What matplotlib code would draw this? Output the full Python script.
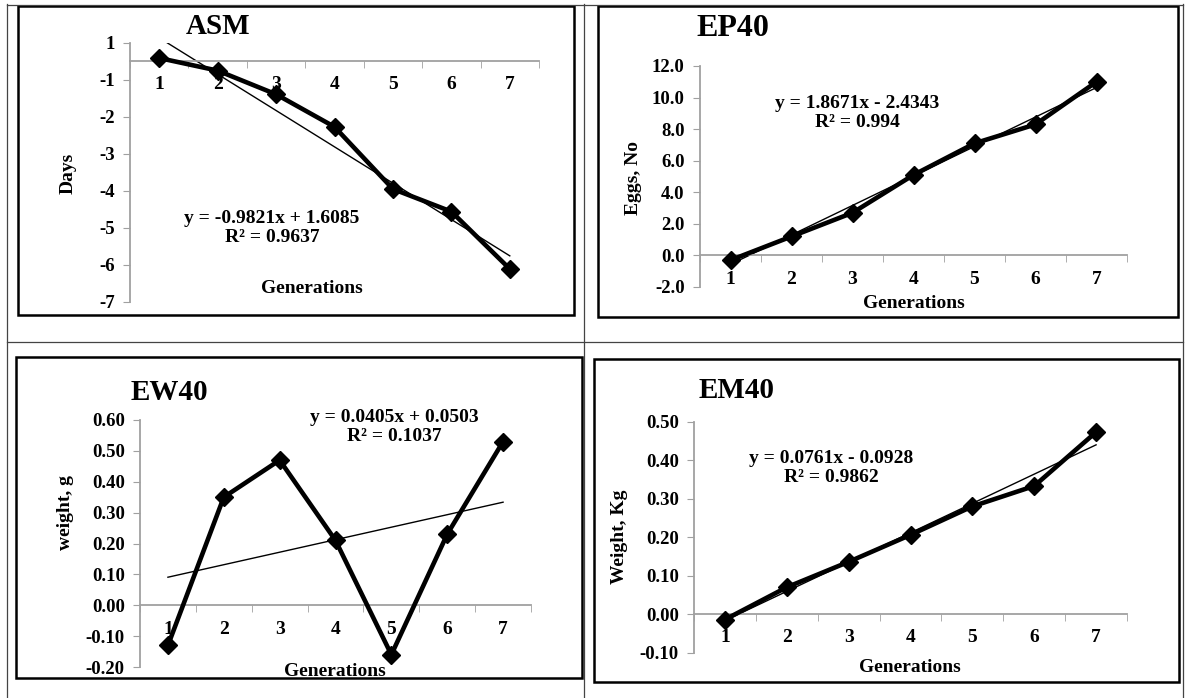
import matplotlib
matplotlib.use("Agg")
import matplotlib.pyplot as plt
from matplotlib.patches import Rectangle
from matplotlib.lines import Line2D

plt.rcParams['font.family'] = ['Liberation Serif', 'DejaVu Serif']
plt.rcParams['font.weight'] = 'bold'
plt.rcParams['axes.unicode_minus'] = False

# data
generations = [1, 2, 3, 4, 5, 6, 7]
asm_days = [0.08, -0.26, -0.90, -1.78, -3.46, -4.07, -5.62]
ep40_eggs = [-0.3, 1.2, 2.7, 5.1, 7.1, 8.3, 11.0]
ew40_weight = [-0.13, 0.35, 0.47, 0.21, -0.16, 0.23, 0.53]
em40_weight = [-0.014, 0.07, 0.136, 0.206, 0.28, 0.333, 0.473]

# trend lines printed on the chart (slope, intercept, r2)
asm_fit = (-0.9821, 1.6085, 0.9637)
ep40_fit = (1.8671, -2.4343, 0.994)
ew40_fit = (0.0405, 0.0503, 0.1037)
em40_fit = (0.0761, -0.0928, 0.9862)

# the ASM y labels sit half a unit off in the original
asm_ytick_labels = ['1', '-1', '-2', '-3', '-4', '-5', '-6', '-7']

W, H = 1187, 698
fig = plt.figure(figsize=(W / 100, H / 100), dpi=100)


def px_axes(x0, y0, x1, y1):
    return fig.add_axes([x0 / W, 1 - y1 / H, (x1 - x0) / W, (y1 - y0) / H])


def ftext(x, y, s, **kw):
    fig.text(x / W, 1 - y / H, s, ha='center', va='center', **kw)


def eq_text(fit):
    m, b, r2 = fit
    sign = '+' if b >= 0 else '-'
    return 'y = %.4fx %s %.4f\nR\u00b2 = %s' % (m, sign, abs(b), ('%.4f' % r2).rstrip('0'))


def panel(ax, vals, fit, ylim, yticks, ylabels):
    ax.set_facecolor('none')
    ax.plot(generations, vals, color='black', lw=3.3, marker='D', ms=9, zorder=3)
    m, b, _ = fit
    ax.plot([1, 7], [m * 1 + b, m * 7 + b], color='black', lw=1, zorder=2)
    ax.set_xlim(0.5, 7.5)
    ax.set_ylim(*ylim)
    for s in ['top', 'right']:
        ax.spines[s].set_visible(False)
    for s in ['left', 'bottom']:
        ax.spines[s].set_color('#a0a0a0')
        ax.spines[s].set_linewidth(1.3)
    ax.spines['bottom'].set_position(('data', 0))
    ax.set_yticks(yticks)
    ax.set_yticklabels(ylabels)
    ax.set_xticks(generations)
    ax.set_xticklabels([str(g) for g in generations])
    ax.set_xticks([g + 0.5 for g in [0] + generations], minor=True)
    ax.tick_params(axis='x', which='major', length=0, pad=11, labelsize=14)
    ax.tick_params(axis='x', which='minor', length=5, color='#a0a0a0', direction='out')
    ax.tick_params(axis='y', length=5, color='#a0a0a0', labelsize=13.5, pad=6)


# table grid
for x in [7, 584, 1183]:
    fig.add_artist(Line2D([x / W, x / W], [1 - 4 / H, 0], color='#444444', lw=0.9))
for y in [4.5, 342]:
    fig.add_artist(Line2D([7 / W, 1183 / W], [1 - y / H, 1 - y / H], color='#444444', lw=0.9))

# chart boxes
for x0, y0, x1, y1 in [(18, 6, 574, 315), (598, 6, 1178, 317),
                       (16, 357, 582, 678), (594, 359, 1179, 682)]:
    fig.add_artist(Rectangle((x0 / W, 1 - y1 / H), (x1 - x0) / W, (y1 - y0) / H,
                             fill=False, edgecolor='black', lw=1.8))

# ASM
ax1 = px_axes(130, 42.5, 539, 301.5)
panel(ax1, asm_days, asm_fit, (-6.5, 0.5),
      [0.5 - i for i in range(len(asm_ytick_labels))], asm_ytick_labels)
ftext(218, 27, 'ASM', fontsize=21)
ftext(272, 228, eq_text(asm_fit), fontsize=14, linespacing=1.15)
ftext(68, 173, 'Days', fontsize=14, rotation=90)
ftext(312, 289, 'Generations', fontsize=14)

# EP40
ep_ticks = [-2, 0, 2, 4, 6, 8, 10, 12]
ax2 = px_axes(700, 66, 1127, 287)
panel(ax2, ep40_eggs, ep40_fit, (-2, 12), ep_ticks, ['%.1f' % t for t in ep_ticks])
ftext(733, 28, 'EP40', fontsize=23)
ftext(857, 113, eq_text(ep40_fit), fontsize=14, linespacing=1.15)
ftext(634, 178, 'Eggs, No', fontsize=14, rotation=90)
ftext(914, 304, 'Generations', fontsize=14)

# EW40
ew_ticks = [-0.2, -0.1, 0.0, 0.1, 0.2, 0.3, 0.4, 0.5, 0.6]
ax3 = px_axes(140, 420, 531, 667)
panel(ax3, ew40_weight, ew40_fit, (-0.2, 0.6), ew_ticks, ['%.2f' % t for t in ew_ticks])
ftext(169, 392, 'EW40', fontsize=21)
ftext(394, 427, eq_text(ew40_fit), fontsize=14, linespacing=1.15)
ftext(66, 512, 'weight, g', fontsize=14, rotation=90)
ftext(335, 671, 'Generations', fontsize=14)

# EM40
em_ticks = [-0.1, 0.0, 0.1, 0.2, 0.3, 0.4, 0.5]
ax4 = px_axes(694, 421.7, 1127, 652.7)
panel(ax4, em40_weight, em40_fit, (-0.1, 0.5), em_ticks, ['%.2f' % t for t in em_ticks])
ftext(737, 390, 'EM40', fontsize=21)
ftext(831, 468, eq_text(em40_fit), fontsize=14, linespacing=1.15)
ftext(620, 537, 'Weight, Kg', fontsize=14, rotation=90)
ftext(910, 668, 'Generations', fontsize=14)

fig.savefig('out.png', dpi=100)
